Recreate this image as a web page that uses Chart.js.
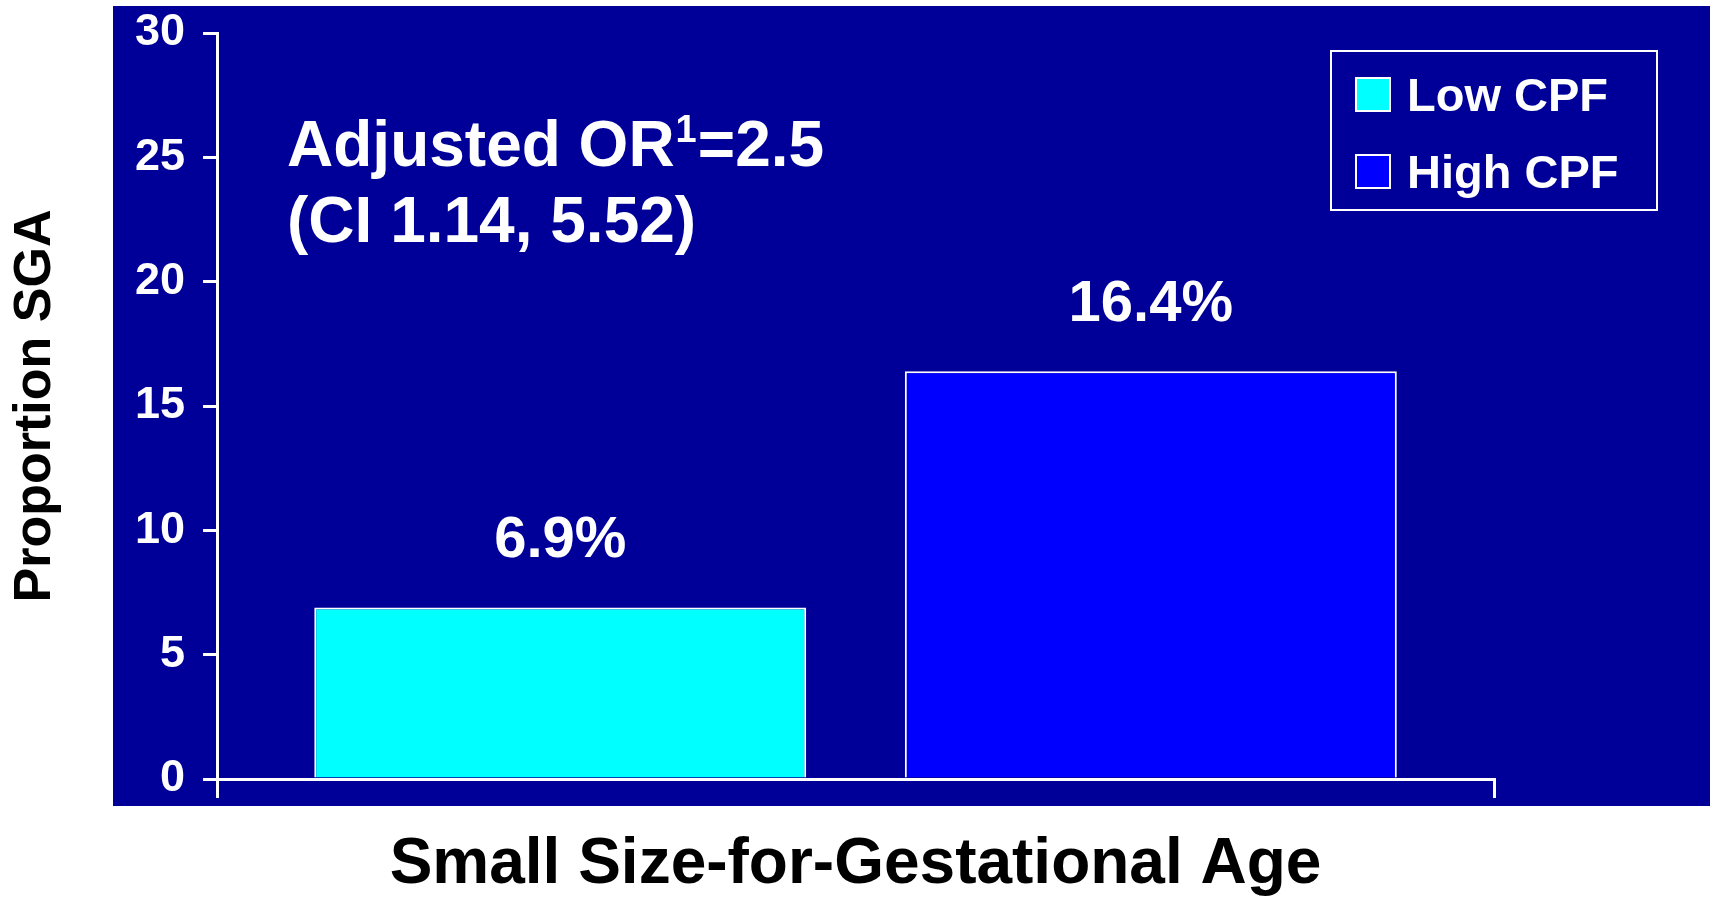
<!DOCTYPE html>
<html>
<head>
<meta charset="utf-8">
<script src="https://cdn.jsdelivr.net/npm/chart.js@4.4.0/dist/chart.umd.min.js"></script>
<style>
  html, body { margin: 0; padding: 0; background: #ffffff; }
  #wrap { position: relative; width: 1711px; height: 897px; }
</style>
</head>
<body>
<div id="wrap"><canvas id="sgaChart"></canvas></div>
<script>
const categories = ['Small Size-for-Gestational Age'];
const seriesNames = ['Low CPF', 'High CPF'];
const lowCpf = [6.9];
const highCpf = [16.4];
const yTicks = [0, 5, 10, 15, 20, 25, 30];
const noteLine1 = ['Adjusted OR', '1', '=2.5'];
const noteLine2 = '(CI 1.14, 5.52)';

const FONT = '"Liberation Sans", Arial, Helvetica, sans-serif';
const NAVY = '#000099';

// navy panel behind the plot
const panelPlugin = {
    id: 'panel',
    beforeDraw(chart) {
        const ctx = chart.ctx;
        ctx.save();
        ctx.fillStyle = NAVY;
        ctx.fillRect(113, 6, 1597, 800);
        ctx.restore();
    }
};

// percentage labels above the bars, OR note, boxed legend
const textPlugin = {
    id: 'texts',
    afterDraw(chart) {
        const ctx = chart.ctx;
        const area = chart.chartArea;
        ctx.save();
        ctx.fillStyle = '#ffffff';

        ctx.font = 'bold 58px ' + FONT;
        ctx.textAlign = 'center';
        ctx.textBaseline = 'alphabetic';
        chart.data.datasets.forEach((ds, i) => {
            const meta = chart.getDatasetMeta(i);
            meta.data.forEach((bar, j) => {
                ctx.fillText(ds.data[j].toFixed(1) + '%', bar.x, bar.y - 50);
            });
        });

        // note
        ctx.textAlign = 'left';
        let x = area.left + 70;
        const y1 = 166;
        ctx.font = 'bold 64px ' + FONT;
        ctx.fillText(noteLine1[0], x, y1);
        x += ctx.measureText(noteLine1[0]).width + 1;
        ctx.font = 'bold 38px ' + FONT;
        ctx.fillText(noteLine1[1], x, y1 - 24);
        x += ctx.measureText(noteLine1[1]).width + 1;
        ctx.font = 'bold 64px ' + FONT;
        ctx.fillText(noteLine1[2], x, y1);
        ctx.fillText(noteLine2, area.left + 70, y1 + 76);

        // legend
        ctx.strokeStyle = '#ffffff';
        ctx.lineWidth = 2;
        ctx.strokeRect(1331, 51, 326, 159);
        ctx.font = 'bold 47px ' + FONT;
        chart.data.datasets.forEach((ds, i) => {
            const top = 78 + i * 77;
            ctx.fillStyle = ds.backgroundColor;
            ctx.fillRect(1356, top, 34, 33);
            ctx.strokeRect(1356, top, 34, 33);
            ctx.fillStyle = '#ffffff';
            ctx.fillText(ds.label, 1407, top + 33);
        });
        ctx.restore();
    }
};

const ctx = document.getElementById('sgaChart').getContext('2d');
new Chart(ctx, {
    type: 'bar',
    data: {
        labels: categories,
        datasets: [{
            label: seriesNames[0],
            data: lowCpf,
            backgroundColor: '#00ffff',
            borderColor: '#ffffff',
            borderWidth: 2
        }, {
            label: seriesNames[1],
            data: highCpf,
            backgroundColor: '#0000ff',
            borderColor: '#ffffff',
            borderWidth: 2
        }]
    },
    options: {
        responsive: true,
        maintainAspectRatio: false,
        animation: false,
        categoryPercentage: 0.925,
        barPercentage: 0.833,
        layout: {
            padding: { left: 0, right: 217, top: 33, bottom: 0 }
        },
        plugins: {
            legend: { display: false },
            tooltip: { enabled: false }
        },
        scales: {
            x: {
                z: 1,
                grid: {
                    display: true,
                    drawOnChartArea: false,
                    drawTicks: true,
                    tickLength: 19,
                    color: '#ffffff',
                    lineWidth: 3
                },
                border: { display: true, color: '#ffffff', width: 3 },
                ticks: { display: false },
                title: {
                    display: true,
                    text: categories[0],
                    color: '#000000',
                    font: { family: FONT, size: 64, weight: 'bold', lineHeight: 1 },
                    padding: { top: 35, bottom: 0 }
                }
            },
            y: {
                z: 1,
                min: yTicks[0],
                max: yTicks[yTicks.length - 1],
                grid: {
                    drawOnChartArea: false,
                    drawTicks: true,
                    tickLength: 14,
                    color: '#ffffff',
                    lineWidth: 3
                },
                border: { display: true, color: '#ffffff', width: 3 },
                ticks: {
                    stepSize: yTicks[1] - yTicks[0],
                    color: '#ffffff',
                    padding: 18,
                    font: { family: FONT, size: 45, weight: 'bold', lineHeight: 0.6 }
                },
                title: {
                    display: true,
                    text: 'Proportion SGA',
                    color: '#000000',
                    font: { family: FONT, size: 52, weight: 'bold', lineHeight: 1 },
                    padding: { top: 10, bottom: 55 }
                }
            }
        }
    },
    plugins: [panelPlugin, textPlugin]
});
</script>
</body>
</html>
